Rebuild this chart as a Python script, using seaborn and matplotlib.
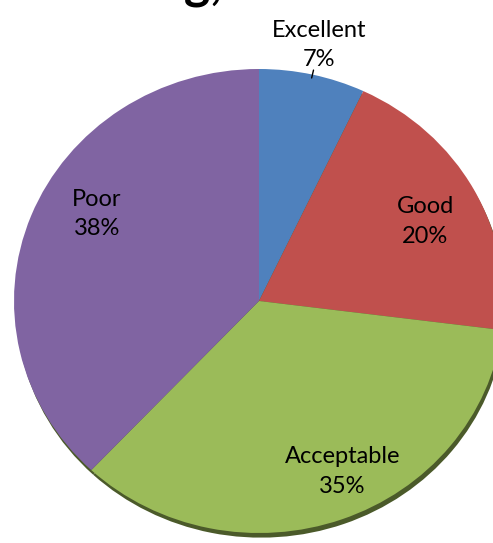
import numpy as np
import matplotlib
matplotlib.use("Agg")
import matplotlib.pyplot as plt
import seaborn as sns

# Chart data
categories = ["Excellent", "Good", "Acceptable", "Poor"]
shares = [7, 20, 35, 38]
title_text = "Rating,"

# Office-style palette
colors = ["#4F81BD", "#C0504D", "#9BBB59", "#8064A2"]
shadow_color = "#4B5A2A"
label_radius = [1.13, 0.76, 0.81, 0.76]
label_shift = [0, -2, 5, -8]  # degrees, nudges labels like Excel does

sns.set_theme(style="white")
plt.rcParams['font.family'] = ['Lato', 'DejaVu Sans']

fig = plt.figure(figsize=(4.93, 5.43), dpi=100)
ax = fig.add_axes([14 / 493, 10 / 543, 490 / 493, 464 / 543])

# shadow under the pie
ax.pie(shares, colors=[shadow_color] * len(shares), startangle=90,
       counterclock=False, center=(0.008, -0.02),
       wedgeprops=dict(linewidth=0))

wedges, _ = ax.pie(shares, colors=colors, startangle=90, counterclock=False,
                   wedgeprops=dict(linewidth=0))

total = sum(shares)
for w, cat, val, r, sh in zip(wedges, categories, shares, label_radius, label_shift):
    mid = np.deg2rad((w.theta1 + w.theta2) / 2 + sh)
    ax.text(r * np.cos(mid), r * np.sin(mid), f"{cat}\n{val / total:.0%}",
            ha="center", va="center", fontsize=17, linespacing=1.5,
            color="black")
    if r > 1:
        # small leader line for the outside label
        ax.plot([0.985 * np.cos(mid), 1.02 * np.cos(mid)],
                [0.985 * np.sin(mid), 1.02 * np.sin(mid)],
                color="black", lw=1, clip_on=False)

ax.set_aspect("auto")
ax.set_xlim(-1, 1)
ax.set_ylim(-1, 1)
ax.axis("off")

fig.text(222 / 493, 544 / 543, title_text, ha="right", va="baseline",
         fontsize=36, fontweight="bold", color="black")

fig.savefig("out.png", dpi=100)
